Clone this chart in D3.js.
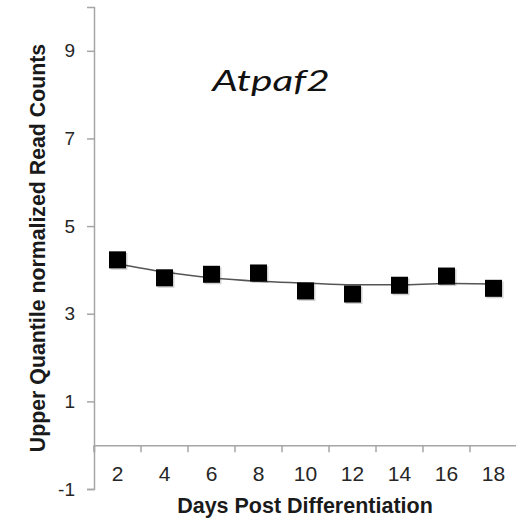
<!DOCTYPE html>
<html>
<head>
<meta charset="utf-8">
<script src="https://cdn.jsdelivr.net/npm/d3@7"></script>
<style>
  body { margin: 0; background: #fff; }
</style>
</head>
<body>
<div id="chart"></div>
<script>
// Values
const days = [2, 4, 6, 8, 10, 12, 14, 16, 18];
const counts = [4.23, 3.82, 3.90, 3.93, 3.52, 3.45, 3.65, 3.86, 3.58];
const fitted = [4.14, 3.95, 3.82, 3.74, 3.70, 3.66, 3.66, 3.69, 3.68];
const yTicks = [-1, 1, 3, 5, 7, 9];

const width = 516, height = 522;
const margin = { top: 7, bottom: 33, left: 94, right: 0 };
const font = "Arial, 'Liberation Sans', sans-serif";

const svg = d3.select("#chart")
    .append("svg")
    .attr("width", width)
    .attr("height", height)
    .style("font-family", font);

// Scales: category axis on x (Excel style), linear on y
const xScale = d3.scaleBand()
    .domain(days)
    .range([margin.left, margin.left + 47 * days.length]);

const yScale = d3.scaleLinear()
    .domain([-1, 10])
    .range([height - margin.bottom, margin.top]);

// y axis
const yAxis = svg.append("g")
    .attr("transform", `translate(${margin.left},0)`)
    .call(d3.axisLeft(yScale)
        .tickValues(yTicks)
        .tickFormat(d => String(d))
        .tickSizeOuter(0).tickSize(7).tickPadding(12))
    .attr("font-family", font)
    .attr("font-size", 19);
yAxis.select(".domain").attr("stroke", "#a6a6a6").attr("stroke-width", 1.5);
yAxis.selectAll(".tick line").attr("stroke", "#a6a6a6").attr("stroke-width", 1.5);
yAxis.selectAll(".tick text").attr("fill", "#262626");

// x axis crosses at 0, ticks between categories
const xAxis = svg.append("g")
    .attr("transform", `translate(0,${yScale(0)})`)
    .call(d3.axisBottom(xScale).tickSizeOuter(0).tickSize(7).tickPadding(14))
    .attr("font-family", font)
    .attr("font-size", 21);
xAxis.select(".domain").attr("stroke", "#a6a6a6").attr("stroke-width", 1.5);
xAxis.selectAll(".tick line")
    .attr("stroke", "#a6a6a6")
    .attr("stroke-width", 1.5)
    .attr("transform", `translate(${-xScale.step() / 2},0)`);
xAxis.selectAll(".tick text").attr("fill", "#262626");

// Axis titles
svg.append("text")
    .attr("x", 305)
    .attr("y", 513)
    .attr("text-anchor", "middle")
    .style("font-size", "21.5px")
    .style("font-weight", "bold")
    .attr("fill", "#1a1a1a")
    .text("Days Post Differentiation");

svg.append("text")
    .attr("transform", "translate(45,248) rotate(-90)")
    .attr("text-anchor", "middle")
    .style("font-size", "21.3px")
    .style("font-weight", "bold")
    .attr("fill", "#1a1a1a")
    .text("Upper Quantile normalized Read Counts");

// Gene name (stretched a little, like the source)
svg.append("text")
    .attr("transform", "translate(271,91) scale(1.45,1)")
    .attr("text-anchor", "middle")
    .style("font-family", "Lato, 'Open Sans', sans-serif")
    .style("font-style", "italic")
    .style("font-size", "28px")
    .attr("fill", "#111")
    .text("Atpaf2");

const cx = d => xScale(d) + xScale.bandwidth() / 2;

// Trend line
const line = d3.line()
    .x((d, i) => cx(days[i]))
    .y(d => yScale(d))
    .curve(d3.curveMonotoneX);

svg.append("path")
    .datum(fitted)
    .attr("d", line)
    .attr("fill", "none")
    .attr("stroke", "#555")
    .attr("stroke-width", 1.5);

// Markers with a soft shadow
const size = 17;
svg.selectAll(".shadow")
    .data(counts)
    .enter()
    .append("rect")
    .attr("class", "shadow")
    .attr("x", (d, i) => cx(days[i]) - size / 2 + 1.5)
    .attr("y", d => yScale(d) - size / 2 + 1.5)
    .attr("width", size)
    .attr("height", size)
    .attr("fill", "#000")
    .attr("opacity", 0.18);

svg.selectAll(".marker")
    .data(counts)
    .enter()
    .append("rect")
    .attr("class", "marker")
    .attr("x", (d, i) => cx(days[i]) - size / 2)
    .attr("y", d => yScale(d) - size / 2)
    .attr("width", size)
    .attr("height", size)
    .attr("fill", "#000");
</script>
</body>
</html>
